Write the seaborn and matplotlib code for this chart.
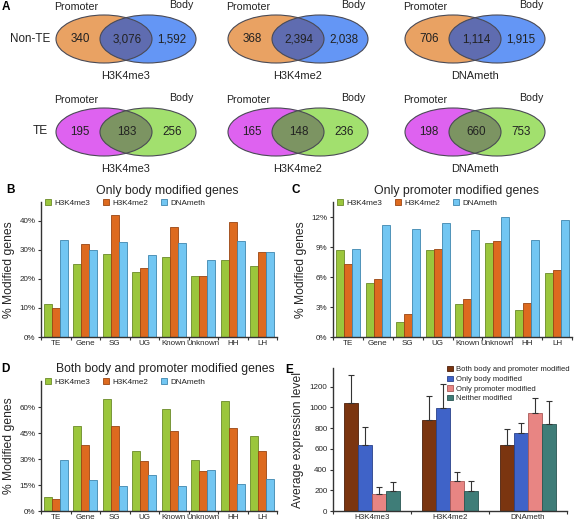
import numpy as np
import pandas as pd
import matplotlib
matplotlib.use('Agg')
import matplotlib.pyplot as plt
from matplotlib.patches import Ellipse
from matplotlib.ticker import PercentFormatter
import seaborn as sns

# --- Venn counts (panel A) ---
marks = ['H3K4me3', 'H3K4me2', 'DNAmeth']
nonte_promoter = [340, 368, 706]
nonte_both = [3076, 2394, 1114]
nonte_body = [1592, 2038, 1915]
te_promoter = [195, 165, 198]
te_both = [183, 148, 660]
te_body = [256, 236, 753]

# --- % modified genes per class (panels B-D) ---
gene_classes = ['TE', 'Gene', 'SG', 'UG', 'Known', 'Unknown', 'HH', 'LH']
body_me3 = [11.2, 25.0, 28.5, 22.4, 27.4, 20.9, 26.4, 24.6]
body_me2 = [10.1, 32.0, 42.0, 23.7, 37.9, 21.1, 39.5, 29.4]
body_meth = [33.4, 30.1, 32.6, 28.1, 32.3, 26.4, 33.0, 29.2]
prom_me3 = [8.7, 5.4, 1.5, 8.7, 3.3, 9.4, 2.7, 6.4]
prom_me2 = [7.3, 5.8, 2.3, 8.8, 3.8, 9.6, 3.4, 6.7]
prom_meth = [8.8, 11.2, 10.8, 11.4, 10.7, 12.0, 9.7, 11.7]
both_me3 = [8.1, 48.8, 64.8, 34.6, 59.0, 29.4, 63.7, 43.4]
both_me2 = [6.8, 38.1, 49.2, 28.6, 45.9, 23.0, 48.0, 34.4]
both_meth = [29.4, 17.8, 14.3, 20.7, 14.3, 23.8, 15.3, 18.6]

# --- expression levels (panel E) ---
expr_groups = ['Both body and promoter modified', 'Only body modified',
               'Only promoter modified', 'Neither modified']
expr_both = [1046, 875, 634]
expr_body = [634, 994, 753]
expr_prom = [167, 293, 949]
expr_neither = [190, 193, 843]
err_both = [264, 232, 154]
err_body = [177, 232, 96]
err_prom = [68, 83, 145]
err_neither = [90, 97, 222]

mark_colors = ['#9BC63C', '#DD6A1F', '#72C6F2']
mark_edges = ['#6B8A28', '#9A4512', '#3F86AE']
expr_colors = ['#7B3510', '#3F63C8', '#E88583', '#3F7D78']
expr_edges = ['#4E200A', '#2A428A', '#A85A58', '#2A5652']

sns.set_theme(style='white')
plt.rcParams['font.family'] = ['Liberation Sans', 'DejaVu Sans']
plt.rcParams['text.color'] = '#222222'

W, H = 574, 524
fig = plt.figure(figsize=(W / 100, H / 100), dpi=100)


def add_box(l, t, r, b):
    return fig.add_axes([l / W, 1 - b / H, (r - l) / W, (b - t) / H])


# overlay axes in pixel coords for Venns and panel letters
ov = fig.add_axes([0, 0, 1, 1])
ov.set_xlim(0, W)
ov.set_ylim(H, 0)
ov.axis('off')


def draw_venn(cx, cy, prom, both, body, title, c_left, c_right, c_mid):
    d, w, h = 22, 96, 48
    e1 = Ellipse((cx - d, cy), w, h, fc=c_left, ec='none')
    e2 = Ellipse((cx + d, cy), w, h, fc=c_right, ec='none')
    mid = Ellipse((cx - d, cy), w, h, fc=c_mid, ec='none')
    for p in (e1, e2, mid):
        ov.add_patch(p)
    mid.set_clip_path(e2)
    for x in (cx - d, cx + d):
        ov.add_patch(Ellipse((x, cy), w, h, fc='none', ec='#4a4a55', lw=0.8))
    ov.text(cx - 46, cy, f'{prom:,}', ha='center', va='center', fontsize=8.4)
    ov.text(cx + 1, cy, f'{both:,}', ha='center', va='center', fontsize=8.4)
    ov.text(cx + 46, cy, f'{body:,}', ha='center', va='center', fontsize=8.4)
    ov.text(cx - d - w / 2 - 2, cy - 32, 'Promoter', ha='left', va='center', fontsize=7.7)
    ov.text(cx + d + w / 2 - 2, cy - 34, 'Body', ha='right', va='center', fontsize=7.7)
    ov.text(cx, cy + 37, title, ha='center', va='center', fontsize=7.9)


venn_x = [126, 298, 475]
for i, m in enumerate(marks):
    draw_venn(venn_x[i], 39, nonte_promoter[i], nonte_both[i], nonte_body[i], m,
              '#E9A263', '#6496F5', '#5F6CB0')
    draw_venn(venn_x[i], 132, te_promoter[i], te_both[i], te_body[i], m,
              '#DE62F0', '#A2E06E', '#7C9462')
ov.text(50, 39, 'Non-TE', ha='right', va='center', fontsize=8.4)
ov.text(48, 131, 'TE', ha='right', va='center', fontsize=8.6)

for letter, x, y in [('A', 2, 7), ('B', 6, 190), ('C', 291, 190), ('D', 1, 369), ('E', 285, 370)]:
    ov.text(x, y, letter, ha='left', va='center', fontsize=8.5, fontweight='bold', color='black')


def style_axis(ax):
    sns.despine(ax=ax)
    for s in ('left', 'bottom'):
        ax.spines[s].set_color('#333333')
        ax.spines[s].set_linewidth(1.0)
    ax.tick_params(axis='y', which='major', length=2.5, width=0.8, color='#333333',
                   labelsize=5.8, pad=1.5, left=True)
    ax.tick_params(axis='x', which='major', length=0, labelsize=5.8, pad=2.5)
    ax.tick_params(axis='x', which='minor', length=2.5, width=0.8, color='#333333', bottom=True)
    ax.grid(False)


def bar_panel(box, series, ylim, yticks, title, title_xy):
    ax = add_box(*box)
    df = pd.DataFrame({
        'cls': np.tile(gene_classes, 3),
        'mark': np.repeat(marks, len(gene_classes)),
        'pct': np.concatenate(series),
    })
    sns.barplot(data=df, x='cls', y='pct', hue='mark', palette=mark_colors,
                width=0.8, saturation=1, legend=False, ax=ax)
    bars = list(ax.containers)
    for cont, ec in zip(bars, mark_edges):
        for b in cont:
            b.set_edgecolor(ec)
            b.set_linewidth(0.6)
    ax.set_xlim(-0.5, len(gene_classes) - 0.5)
    ax.set_xticks(np.arange(-0.5, len(gene_classes)), minor=True)
    ax.set_ylim(*ylim)
    ax.set_yticks(yticks)
    ax.yaxis.set_major_formatter(PercentFormatter(decimals=0))
    ax.set_xlabel('')
    ax.set_ylabel('% Modified genes', fontsize=8.7, labelpad=3)
    style_axis(ax)
    ax.legend(handles=[c.patches[0] for c in bars], labels=marks,
              loc='upper left', bbox_to_anchor=(0.015, 1.025), ncol=3, frameon=False,
              fontsize=5.9, handlelength=0.8, handleheight=0.8, handletextpad=0.4,
              columnspacing=1.5, borderaxespad=0, borderpad=0)
    ov.text(title_xy[0], title_xy[1], title, ha='center', va='center', fontsize=8.8)
    return ax


bar_panel((41, 202, 277, 337), [body_me3, body_me2, body_meth], (0, 46.5),
          [0, 10, 20, 30, 40], 'Only body modified genes', (167, 191))
bar_panel((333, 202, 572, 337), [prom_me3, prom_me2, prom_meth], (0, 13.5),
          [0, 3, 6, 9, 12], 'Only promoter modified genes', (457, 191))
bar_panel((41, 381, 277, 511), [both_me3, both_me2, both_meth], (0, 75),
          [0, 15, 30, 45, 60], 'Both body and promoter modified genes', (165, 369))

# panel E
axe = add_box(333, 368, 567, 511)
expr_vals = [expr_both, expr_body, expr_prom, expr_neither]
expr_errs = [err_both, err_body, err_prom, err_neither]
dfe = pd.DataFrame({
    'mark': np.tile(marks, 4),
    'group': np.repeat(expr_groups, 3),
    'level': np.concatenate(expr_vals),
})
sns.barplot(data=dfe, x='mark', y='level', hue='group', palette=expr_colors,
            width=0.73, saturation=1, legend=False, ax=axe)
expr_bars = list(axe.containers)
for cont, ec, errs in zip(expr_bars, expr_edges, expr_errs):
    xs, hs = [], []
    for b in cont:
        b.set_edgecolor(ec)
        b.set_linewidth(0.6)
        xs.append(b.get_x() + b.get_width() / 2)
        hs.append(b.get_height())
    axe.errorbar(xs, hs, yerr=[np.zeros(len(errs)), errs], fmt='none',
                 ecolor='#333333', elinewidth=0.8, capsize=2.5, capthick=0.8, zorder=1)
axe.set_xlim(-0.5, 2.5)
axe.set_xticks(np.arange(-0.5, 3), minor=True)
axe.set_ylim(0, 1380)
axe.set_yticks(range(0, 1201, 200))
axe.set_xlabel('')
axe.set_ylabel('Average expression level', fontsize=8.7, labelpad=4)
style_axis(axe)
axe.tick_params(axis='x', which='major', labelsize=5.8)
axe.legend(handles=[c.patches[0] for c in expr_bars], labels=expr_groups,
           loc='upper right', bbox_to_anchor=(570 / W, 1 - 366 / H),
           bbox_transform=fig.transFigure, frameon=False, fontsize=5.5,
           handlelength=0.7, handleheight=0.7, handletextpad=0.5,
           labelspacing=0.3, borderaxespad=0, borderpad=0)

fig.savefig('out.png', dpi=100)
plt.close(fig)
